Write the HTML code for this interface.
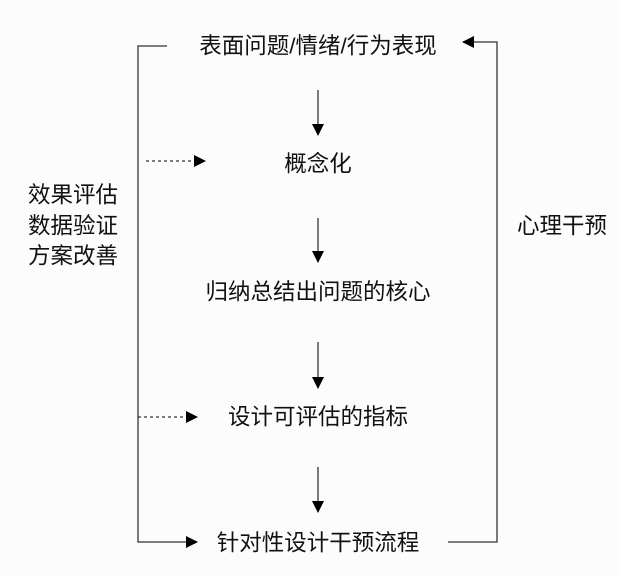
<!DOCTYPE html>
<html><head><meta charset="utf-8"><style>
html,body{margin:0;padding:0;background:#fcfcfc;}
svg text{font-family:"Liberation Sans","Noto Sans CJK SC",sans-serif;fill:#111;}
</style></head><body>
<svg width="620" height="570" viewBox="0 0 620 570" xmlns="http://www.w3.org/2000/svg">
<defs><marker id="a" markerWidth="12" markerHeight="12" refX="11" refY="6" orient="auto" markerUnits="userSpaceOnUse"><path d="M0,0 L12,6 L0,12 z" fill="#000"/></marker></defs>
<g stroke="#333" stroke-width="1.3" fill="none">
<polyline points="167,46 138,46 138,542 197,542" marker-end="url(#a)"/>
<polyline points="448,542 497,542 497,42 463,42" marker-end="url(#a)"/>
<line x1="318" y1="90" x2="318" y2="135" marker-end="url(#a)"/>
<line x1="318" y1="218" x2="318" y2="262" marker-end="url(#a)"/>
<line x1="318" y1="342" x2="318" y2="388" marker-end="url(#a)"/>
<line x1="318" y1="467" x2="318" y2="512" marker-end="url(#a)"/>
<line x1="146" y1="161" x2="205" y2="161" stroke-dasharray="3,3" marker-end="url(#a)"/>
<line x1="138" y1="417" x2="197" y2="417" stroke-dasharray="3,3" marker-end="url(#a)"/>
</g>
<g font-size="22.5" text-anchor="middle" dominant-baseline="central">
<text x="318" y="46">表面问题/情绪/行为表现</text>
<text x="318" y="164">概念化</text>
<text x="318" y="292">归纳总结出问题的核心</text>
<text x="318" y="417">设计可评估的指标</text>
<text x="318" y="543">针对性设计干预流程</text>
<text x="562" y="226">心理干预</text>
<text x="73" y="195">效果评估</text>
<text x="73" y="226">数据验证</text>
<text x="73" y="256">方案改善</text>
</g>
</svg>
</body></html>
